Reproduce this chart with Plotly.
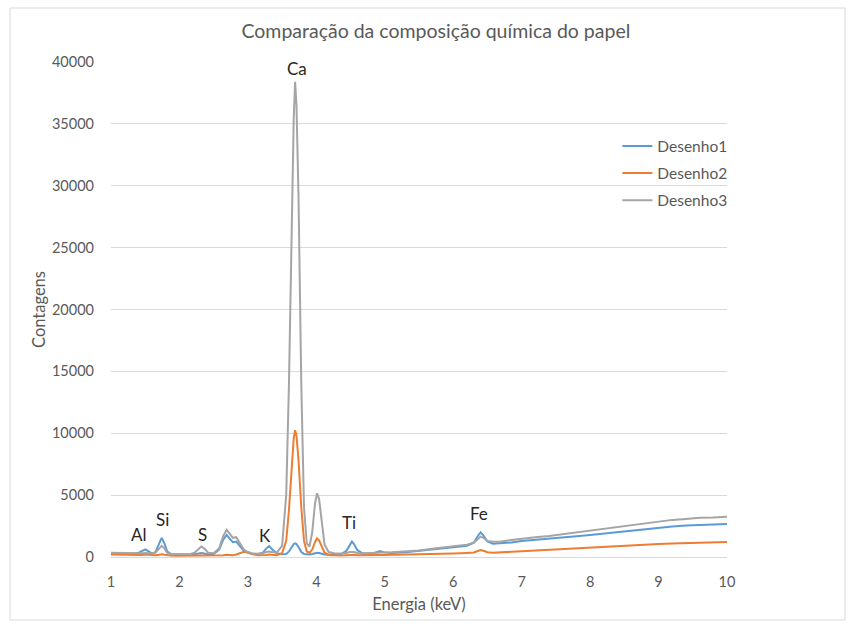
import plotly.graph_objects as go

energia = [1.0, 1.1, 1.2, 1.3, 1.4, 1.45, 1.5, 1.55, 1.6, 1.65, 1.7, 1.74, 1.78, 1.82, 1.87, 1.95,
           2.05, 2.15, 2.22, 2.28, 2.32, 2.36, 2.42, 2.5, 2.58, 2.64, 2.69, 2.74, 2.78, 2.83, 2.88, 2.94,
           3.0, 3.06, 3.14, 3.22, 3.27, 3.31, 3.35, 3.42, 3.5, 3.56, 3.6, 3.64, 3.67, 3.69, 3.71, 3.74,
           3.78, 3.82, 3.86, 3.9, 3.94, 3.98, 4.01, 4.04, 4.08, 4.12, 4.18, 4.26, 4.36, 4.44, 4.49, 4.52,
           4.55, 4.6, 4.68, 4.8, 4.88, 4.93, 4.98, 5.1, 5.3, 5.5, 5.75, 6.0, 6.2, 6.3, 6.36, 6.4, 6.44,
           6.5, 6.58, 6.7, 6.85, 7.0, 7.2, 7.4, 7.6, 7.8, 8.0, 8.2, 8.4, 8.6, 8.8, 9.0, 9.2, 9.4, 9.6,
           9.8, 10.0]

desenho1 = [300, 280, 260, 250, 330, 480, 620, 450, 280, 400, 1000, 1550, 1100, 450, 250, 210,
            200, 200, 220, 290, 330, 280, 220, 250, 600, 1400, 1780, 1450, 1200, 1250, 900, 500,
            330, 260, 230, 350, 700, 880, 650, 300, 220, 250, 450, 850, 1050, 1100, 1050, 800,
            400, 250, 200, 200, 250, 330, 350, 320, 250, 200, 190, 200, 220, 500, 1050, 1250,
            1050, 550, 270, 260, 380, 480, 380, 330, 380, 480, 620, 780, 900, 1150, 1700, 2000, 1750,
            1250, 1080, 1100, 1180, 1300, 1380, 1470, 1580, 1680, 1780, 1900, 2000, 2120, 2230, 2380, 2460, 2540, 2600,
            2620, 2660]

desenho2 = [200, 180, 160, 150, 150, 170, 200, 170, 140, 140, 180, 220, 180, 140, 120, 110,
            110, 110, 110, 130, 150, 130, 110, 110, 120, 150, 180, 160, 150, 200, 300, 420,
            380, 230, 140, 130, 170, 200, 170, 150, 300, 1300, 3800, 7500, 9600, 10250, 9800, 7800,
            4000, 1300, 450, 350, 600, 1200, 1500, 1350, 800, 350, 170, 130, 120, 140, 180, 200,
            180, 140, 130, 140, 150, 160, 160, 170, 190, 220, 250, 290, 330, 360, 480, 560, 500,
            380, 340, 360, 420, 470, 530, 580, 640, 720, 800, 850, 900, 950, 1000, 1050, 1090, 1120, 1160,
            1190, 1220]

desenho3 = [350, 330, 310, 290, 280, 300, 330, 300, 280, 350, 650, 900, 700, 350, 250, 230,
            220, 230, 350, 700, 850, 700, 350, 300, 700, 1700, 2200, 1850, 1550, 1600, 1150, 600,
            400, 300, 260, 300, 400, 450, 400, 350, 900, 5000, 14000, 27000, 35500, 38400, 36500, 29000,
            14000, 4000, 1100, 850, 2000, 4300, 5150, 4700, 2800, 1000, 400, 300, 290, 320, 400, 430,
            400, 330, 300, 320, 350, 380, 370, 380, 430, 530, 700, 880, 1000, 1150, 1450, 1650, 1550,
            1300, 1230, 1250, 1380, 1500, 1600, 1700, 1850, 2000, 2150, 2300, 2430, 2570, 2700, 2900, 3000, 3080, 3180,
            3200, 3250]

elementos = ["Al", "Si", "S", "K", "Ca", "Ti", "Fe"]
elem_x = [1.41, 1.75, 2.33, 3.25, 3.72, 4.48, 6.37]
elem_y = [1800, 3000, 1850, 1700, 39500, 2750, 3550]

y_ticks = [0, 5000, 10000, 15000, 20000, 25000, 30000, 35000, 40000]
y_labels = [str(v) for v in y_ticks]
x_ticks = [1, 2, 3, 4, 5, 6, 7, 8, 9, 10]

FONT = "Lato"
TXT = "#595959"

fig = go.Figure()
for name, vals, col in [("Desenho1", desenho1, "#5b9bd5"),
                        ("Desenho2", desenho2, "#ed7d31"),
                        ("Desenho3", desenho3, "#a5a5a5")]:
    fig.add_trace(go.Scatter(x=energia, y=vals, mode="lines", name=name, legendgroup=name,
                             line=dict(color=col, width=2)))

for t, x, y in zip(elementos, elem_x, elem_y):
    fig.add_annotation(x=x, y=y, text=t, showarrow=False,
                       font=dict(family=FONT, size=17, color="#262626"))

fig.add_shape(type="rect", xref="paper", yref="paper",
              x0=-101/616, x1=(845-111)/616, y0=-(620-557)/495, y1=(557-8)/495,
              line=dict(color="#d9d9d9", width=1))

fig.update_layout(
    width=853, height=625,
    margin=dict(l=111, r=126, t=62, b=68),
    paper_bgcolor="white", plot_bgcolor="white",
    font=dict(family=FONT, size=14, color=TXT),
    title=dict(text="Comparação da composição química do papel", x=0.511, xanchor="center",
               y=1 - 31/625, yanchor="middle", font=dict(size=19.5, color=TXT)),
    xaxis=dict(range=[1, 10], tickvals=x_ticks, showgrid=False, zeroline=False,
               showline=True, linecolor="#d9d9d9", ticks="", tickfont=dict(size=14.5, color=TXT),
               ticklabelstandoff=12,
               title=dict(text="Energia (keV)", font=dict(size=16.5, color=TXT), standoff=9)),
    yaxis=dict(range=[0, 40000], tickvals=y_ticks, ticktext=y_labels, showgrid=True,
               gridcolor="#d9d9d9", zeroline=False, showline=False, ticks="",
               tickfont=dict(size=14.5, color=TXT), ticklabelstandoff=16,
               title=dict(text="Contagens", font=dict(size=16.5, color=TXT), standoff=2)),
    legend=dict(x=0.822, y=0.864, xanchor="left", yanchor="top", bgcolor="rgba(0,0,0,0)",
                tracegroupgap=4, itemwidth=30, font=dict(size=15.5, color=TXT)),
)

fig.write_html("out.html")
